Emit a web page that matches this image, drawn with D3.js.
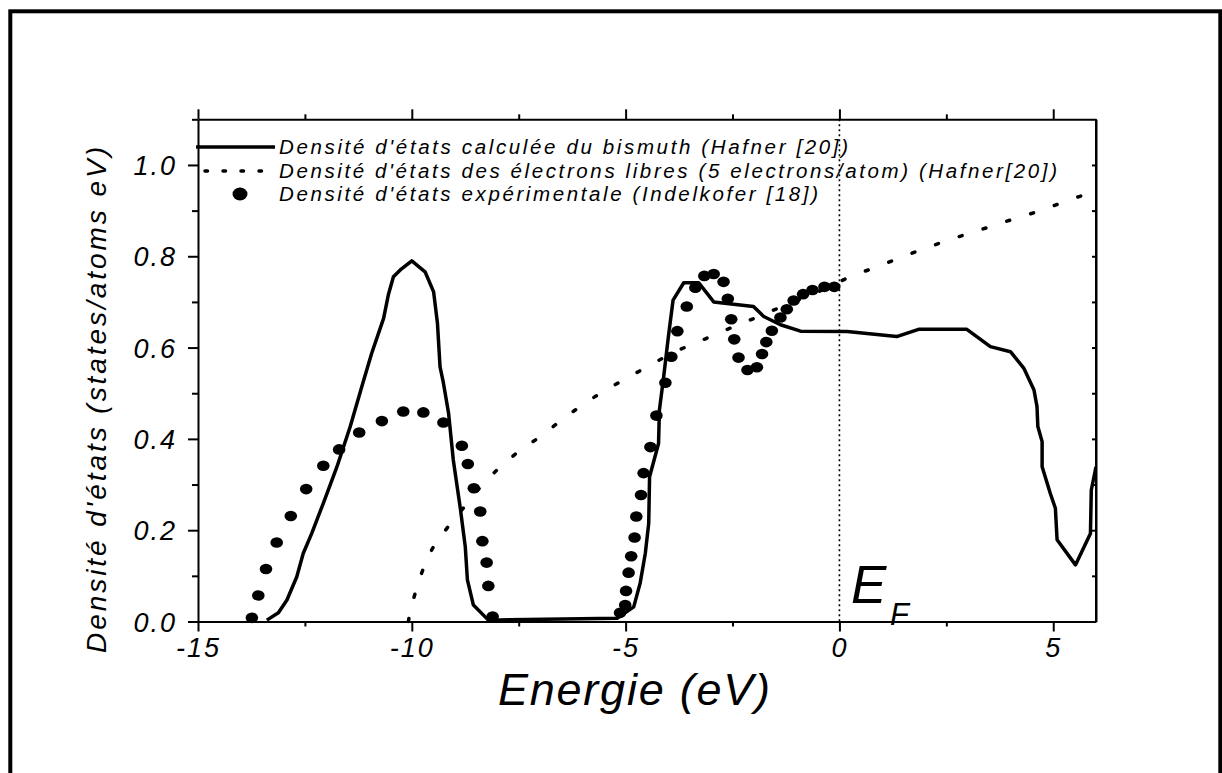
<!DOCTYPE html>
<html><head><meta charset="utf-8">
<script src="https://cdn.jsdelivr.net/npm/d3@7"></script>
<style>
body{margin:0;background:#fff}
svg{display:block}
text{font-family:"Liberation Sans",Arial,sans-serif;font-style:italic;fill:#000}
</style>
</head><body>
<svg id="chart" width="1222" height="773"></svg>
<script>
// ---------- data ----------
const calcEnergy = [-13.39,-13.12,-12.92,-12.69,-12.54,-12.34,-12.07,-11.75,-11.44,-11.17,-10.94,-10.66,-10.55,-10.43,-10.27,-10.0,-9.69,-9.49,-9.40,-9.34,-9.26,-9.14,-9.03,-8.87,-8.75,-8.70,-8.56,-8.21,-5.20,-4.81,-4.66,-4.54,-4.46,-4.44,-4.23,-4.21,-4.11,-4.00,-3.89,-3.64,-3.29,-2.94,-2.01,-1.77,-1.38,-0.91,0.18,1.34,1.85,2.98,3.53,4.00,4.31,4.55,4.62,4.64,4.74,4.74,4.93,5.05,5.09,5.52,5.87,5.89,6.0];
const calcDos    = [0.003,0.019,0.047,0.098,0.149,0.193,0.259,0.339,0.427,0.514,0.587,0.664,0.715,0.755,0.770,0.790,0.766,0.722,0.653,0.558,0.522,0.456,0.354,0.251,0.164,0.091,0.036,0.003,0.007,0.032,0.084,0.149,0.215,0.317,0.390,0.463,0.536,0.624,0.704,0.742,0.742,0.700,0.690,0.668,0.650,0.636,0.635,0.624,0.640,0.640,0.602,0.591,0.555,0.507,0.471,0.427,0.394,0.339,0.281,0.248,0.179,0.124,0.193,0.288,0.339];

const freeEnergy = [-10.08,-10.06,-9.94,-9.77,-9.56,-9.22,-8.79,-8.39,-7.6,-7.0,-6.3,-5.59,-4.97,-4.38,-3.79,-3.19,-2.62,-2.02,-1.44,-0.5,0.33,0.94,1.53,2.11,2.70,3.30,3.88,4.47,5.05,5.65,6.0];
const freeDos    = [0.0,0.011,0.056,0.106,0.152,0.199,0.249,0.295,0.365,0.405,0.455,0.500,0.533,0.564,0.593,0.617,0.640,0.663,0.686,0.722,0.758,0.779,0.801,0.821,0.840,0.858,0.876,0.893,0.912,0.932,0.940];

const expEnergy = [-13.74,-13.59,-13.41,-13.16,-12.83,-12.47,-12.07,-11.70,-11.23,-10.70,-10.20,-9.73,-9.26,-8.83,-8.69,-8.55,-8.40,-8.35,-8.25,-8.21,-8.11,
  -5.13,-5.01,-4.99,-4.93,-4.87,-4.79,-4.75,-4.64,-4.58,-4.42,-4.28,-4.07,-3.93,-3.79,-3.57,-3.37,-3.16,-2.94,-2.71,-2.61,-2.53,-2.46,-2.36,-2.15,-1.93,-1.81,-1.71,-1.58,-1.38,-1.23,-1.07,-0.85,-0.63,-0.35,-0.12];
const expDos    = [0.008,0.057,0.115,0.173,0.231,0.290,0.341,0.377,0.414,0.439,0.460,0.458,0.436,0.385,0.345,0.292,0.241,0.176,0.129,0.078,0.011,
  0.019,0.036,0.067,0.107,0.143,0.184,0.230,0.277,0.325,0.382,0.451,0.523,0.580,0.636,0.690,0.731,0.757,0.761,0.744,0.707,0.662,0.618,0.578,0.551,0.557,0.586,0.612,0.637,0.666,0.684,0.703,0.717,0.726,0.733,0.733];

const xMajorTicks = [-15,-10,-5,0,5];
const xMinorTicks = [-12.5,-7.5,-2.5,2.5];
const yMajorTicks = [0.0,0.2,0.4,0.6,0.8,1.0];
const yMinorTicks = [0.1,0.3,0.5,0.7,0.9,1.1];
const yAllTicks   = [0.1,0.2,0.3,0.4,0.5,0.6,0.7,0.8,0.9,1.0];

const legendLabels = [
  "Densité d'états calculée du bismuth (Hafner [20])",
  "Densité d'états des électrons libres (5 electrons/atom) (Hafner[20])",
  "Densité d'états expérimentale (Indelkofer [18])"
];
const xTitle = "Energie (eV)";
const yTitle = "Densité d'états (states/atoms eV)";

// ---------- layout ----------
const svg = d3.select("#chart");
const L = 198, R = 1096, T = 119.3, B = 621.5;
const x = d3.scaleLinear().domain([-15, 6]).range([L, R]);
const y = d3.scaleLinear().domain([0, 1.1]).range([B, T]);

// outer frame
svg.append("rect").attr("x",10.3).attr("y",11.3).attr("width",1210).attr("height",800)
  .attr("fill","none").attr("stroke","#000").attr("stroke-width",4);

svg.append("clipPath").attr("id","clip").append("rect")
  .attr("x",L).attr("y",T-2).attr("width",R-L).attr("height",B-T+4);

function styleAxis(g){
  g.selectAll(".domain").attr("stroke","#000").attr("stroke-width",2);
  g.selectAll(".tick line").attr("stroke","#000").attr("stroke-width",2);
}
// bottom axis
svg.append("g").attr("transform",`translate(0,${B})`)
  .call(d3.axisBottom(x).tickValues(xMajorTicks).tickSize(10).tickSizeOuter(0).tickFormat(d=>String(d)))
  .call(styleAxis)
  .call(g=>g.selectAll(".tick text").attr("y",16).attr("dy","0.71em")
     .style("font-size","27px").style("letter-spacing","2px").attr("font-family",null));
svg.append("g").attr("transform",`translate(0,${B})`)
  .call(d3.axisBottom(x).tickValues(xMinorTicks).tickSize(5).tickSizeOuter(0).tickFormat(""))
  .call(styleAxis).call(g=>g.select(".domain").remove());
// top axis
svg.append("g").attr("transform",`translate(0,${T})`)
  .call(d3.axisTop(x).tickValues(xMajorTicks).tickSize(10).tickSizeOuter(0).tickFormat(""))
  .call(styleAxis);
svg.append("g").attr("transform",`translate(0,${T})`)
  .call(d3.axisTop(x).tickValues(xMinorTicks).tickSize(5).tickSizeOuter(0).tickFormat(""))
  .call(styleAxis).call(g=>g.select(".domain").remove());
// left axis
svg.append("g").attr("transform",`translate(${L},0)`)
  .call(d3.axisLeft(y).tickValues(yMajorTicks).tickSize(10).tickSizeOuter(0).tickFormat(d3.format(".1f")))
  .call(styleAxis)
  .call(g=>g.selectAll(".tick text").attr("x",-21).attr("dy","0.36em")
     .style("font-size","27px").style("letter-spacing","2px").attr("font-family",null));
svg.append("g").attr("transform",`translate(${L},0)`)
  .call(d3.axisLeft(y).tickValues(yMinorTicks).tickSize(6).tickSizeOuter(0).tickFormat(""))
  .call(styleAxis).call(g=>g.select(".domain").remove());
// right axis (inward ticks)
svg.append("g").attr("transform",`translate(${R},0)`)
  .call(d3.axisLeft(y).tickValues(yAllTicks).tickSize(4).tickSizeOuter(0).tickFormat(""))
  .call(styleAxis);
svg.append("line").attr("x1",R).attr("x2",R).attr("y1",T).attr("y2",B).attr("stroke","#000").attr("stroke-width",2);

// Fermi level line
svg.append("line").attr("x1",x(0)).attr("x2",x(0)).attr("y1",T).attr("y2",B)
  .attr("stroke","#000").attr("stroke-width",1.6).attr("stroke-dasharray","2,3");

const plot = svg.append("g").attr("clip-path","url(#clip)");

// free electron DOS (dotted)
const freeData = freeEnergy.map((e,i)=>[e,freeDos[i]]);
plot.append("path").datum(freeData)
  .attr("d", d3.line().x(d=>x(d[0])).y(d=>y(d[1])).curve(d3.curveMonotoneX))
  .attr("fill","none").attr("stroke","#000").attr("stroke-width",3.5)
  .attr("stroke-linecap","round").attr("stroke-dasharray","3,22");

// calculated DOS (solid)
const calcData = calcEnergy.map((e,i)=>[e,calcDos[i]]);
plot.append("path").datum(calcData)
  .attr("d", d3.line().x(d=>x(d[0])).y(d=>y(d[1])))
  .attr("fill","none").attr("stroke","#000").attr("stroke-width",3.5)
  .attr("stroke-linejoin","round");

// experimental DOS (dots)
const expData = expEnergy.map((e,i)=>[e,expDos[i]]);
svg.append("g").selectAll("ellipse").data(expData).join("ellipse")
  .attr("cx",d=>x(d[0])).attr("cy",d=>y(d[1])).attr("rx",6.3).attr("ry",5.3).attr("fill","#000");

// E_F label
svg.append("text").attr("x",851).attr("y",603).style("font-size","53px").text("E");
svg.append("text").attr("x",890).attr("y",625).style("font-size","31px").text("F");

// legend
const legY = [147, 171, 194];
svg.append("line").attr("x1",196).attr("x2",275).attr("y1",legY[0]).attr("y2",legY[0])
  .attr("stroke","#000").attr("stroke-width",3.5);
svg.append("line").attr("x1",205).attr("x2",262).attr("y1",legY[1]).attr("y2",legY[1])
  .attr("stroke","#000").attr("stroke-width",3.5).attr("stroke-linecap","round").attr("stroke-dasharray","2.5,15.5");
svg.append("ellipse").attr("cx",240).attr("cy",legY[2]).attr("rx",7.5).attr("ry",6.5).attr("fill","#000");
const legEnds = [848, 1057, 818];
svg.append("g").selectAll("text").data(legendLabels).join("text")
  .attr("x",279).attr("y",(d,i)=>legY[i]).attr("dy","0.36em")
  .style("font-size","20.5px")
  .attr("textLength",(d,i)=>legEnds[i]-279).attr("lengthAdjust","spacing")
  .text(d=>d);

// axis titles
svg.append("text").attr("x",(498+770)/2).attr("y",705).attr("text-anchor","middle")
  .style("font-size","45px").attr("textLength",272).attr("lengthAdjust","spacing").text(xTitle);
svg.append("text").attr("transform","translate(106,400) rotate(-90)").attr("text-anchor","middle")
  .style("font-size","28px").attr("textLength",506).attr("lengthAdjust","spacing").text(yTitle);
</script>
</body></html>
